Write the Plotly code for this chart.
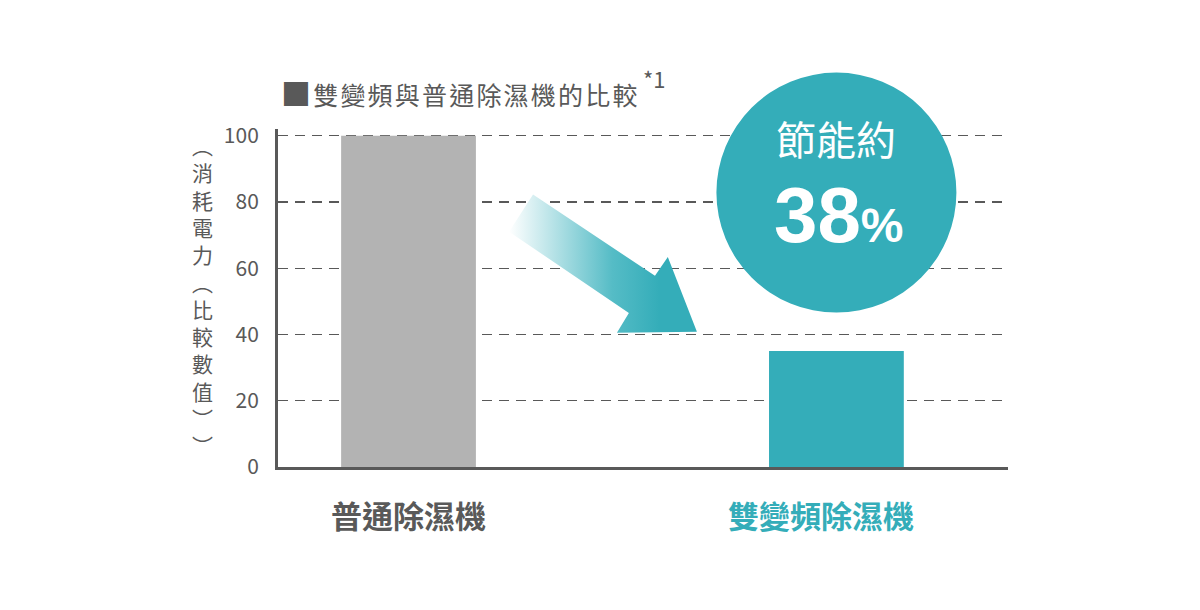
import plotly.graph_objects as go

# Bar data
categories = ["普通除濕機", "雙變頻除濕機"]
values = [100, 35]
bar_colors = ["#b3b3b3", "#34adb9"]
label_colors = ["#595959", "#34adb9"]
y_ticks = [0, 20, 40, 60, 80, 100]

# Decorative arrow outline (data units)
arrow_x = [0.291, 0.576, 0.606, 0.674, 0.487, 0.515, 0.235]
arrow_y = [82.2, 57.7, 63.4, 40.8, 40.5, 46.5, 71.0]

y_title = "︵消耗電力︵比較數值︶︶"

TEAL = "#34adb9"
GREY = "#595959"
CJK = "Noto Sans CJK TC"

x_range = [-0.305, 1.401]
y_range = [0, 102]
plot_w, plot_h = 730, 338
# pixel position of plot-area origin in the target picture
X0, Y0 = 278, 467
# category labels are not exactly centred under the bars (pixels)
label_shift = [0, -15]


def paper_x(v):
    return (v - x_range[0]) / (x_range[1] - x_range[0])


def paper_y(v):
    return (v - y_range[0]) / (y_range[1] - y_range[0])


def px_to_paper(px, py):
    return (px - X0) / plot_w, (Y0 - py) / plot_h


fig = go.Figure()

fig.add_trace(go.Bar(
    x=list(range(len(categories))), y=values, width=0.315,
    marker=dict(color=bar_colors, line=dict(width=0)),
    hoverinfo="skip",
))

fig.add_trace(go.Scatter(
    x=arrow_x, y=arrow_y, fill="toself", mode="lines",
    line=dict(width=0, color=TEAL),
    fillgradient=dict(type="horizontal", colorscale=[
        [0, "rgba(255,255,255,1)"], [0.55, "#55bcc6"], [0.8, TEAL], [1, TEAL]]),
    hoverinfo="skip",
))

# savings circle, centred over the second bar
cx, cy = paper_x(1), paper_y(82.8)
rx, ry = 120 / plot_w, 120 / plot_h
shapes = [
    dict(type="line", xref="paper", yref="y", x0=0, x1=1, y0=80, y1=80,
         line=dict(color=GREY, width=2, dash="10px,7px"), layer="below"),
    dict(type="circle", xref="paper", yref="paper",
         x0=cx - rx, x1=cx + rx, y0=cy - ry, y1=cy + ry,
         fillcolor=TEAL, line=dict(width=0), layer="above"),
]

tx, ty = px_to_paper(279, 92)
sx, sy = px_to_paper(641, 78)
annotations = [
    dict(text="<span style='letter-spacing:2.2px'><span style='font-size:30px'>■</span>"
              "雙變頻與普通除濕機的比較</span>",
         xref="paper", yref="paper", x=tx, y=ty, xanchor="left", yanchor="middle",
         showarrow=False, font=dict(family=CJK, size=25, color=GREY)),
    dict(text="*1", xref="paper", yref="paper", x=sx, y=sy, xanchor="left", yanchor="middle",
         showarrow=False, font=dict(family=CJK, size=22, color=GREY)),
    dict(text="節能約", xref="x", yref="paper", x=1, y=px_to_paper(0, 138)[1],
         xanchor="center", yanchor="middle", showarrow=False,
         font=dict(family=CJK, size=40, color="white")),
    dict(text="<b>38<span style='font-size:48px'>%</span></b>", xref="x", yref="paper",
         x=1.005, y=px_to_paper(0, 215)[1], xanchor="center", yanchor="middle", showarrow=False,
         font=dict(family="Liberation Sans, Arial", size=78, color="white")),
]
# vertical axis title: one upright character per line
ax, ay = px_to_paper(202, 295)
annotations.append(dict(
    text="<br>".join(y_title),
    xref="paper", yref="paper", x=ax, y=ay, xanchor="center", yanchor="middle",
    showarrow=False, font=dict(family=CJK, size=21, color=GREY)))
for i, name in enumerate(categories):
    annotations.append(dict(
        text="<b>%s</b>" % name, xref="x", yref="paper", x=i, xshift=label_shift[i],
        y=px_to_paper(0, 514)[1], xanchor="center", yanchor="middle", showarrow=False,
        font=dict(family=CJK, size=31, color=label_colors[i])))

# the page body adds an 8px offset, so margins are shifted by 8
fig.update_layout(
    width=1200, height=610,
    margin=dict(l=X0 - 8, r=1200 - X0 - plot_w + 8, t=Y0 - plot_h - 8, b=610 - Y0 + 8),
    paper_bgcolor="white", plot_bgcolor="white",
    showlegend=False,
    font=dict(family=CJK, color=GREY),
    shapes=shapes, annotations=annotations,
)
fig.update_xaxes(
    range=x_range, showgrid=False, zeroline=False, showticklabels=False,
    showline=True, linewidth=3, linecolor=GREY, fixedrange=True,
)
fig.update_yaxes(
    range=y_range, tickvals=y_ticks, showgrid=True, gridcolor=GREY, gridwidth=1,
    griddash="10px,7px", zeroline=False, showline=True, linewidth=3, linecolor=GREY,
    tickfont=dict(family=CJK, size=21, color=GREY), ticklabelstandoff=12, fixedrange=True,
)

fig.write_html("out.html")
